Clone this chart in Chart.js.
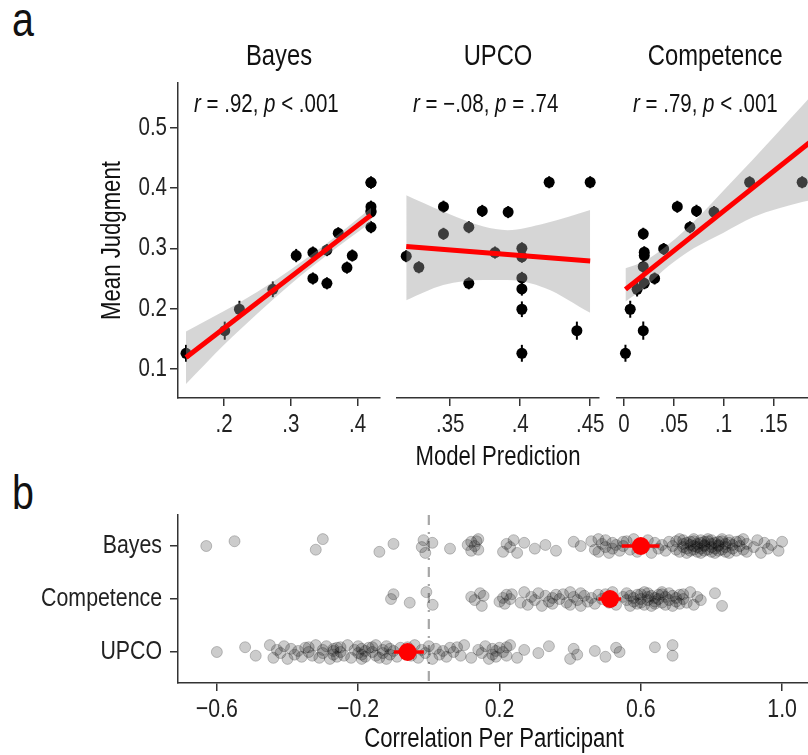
<!DOCTYPE html>
<html><head><meta charset="utf-8">
<script src="https://cdn.jsdelivr.net/npm/chart.js@4.4.0/dist/chart.umd.min.js"></script>
<style>
html,body{margin:0;padding:0;background:#fff;width:808px;height:755px;overflow:hidden;position:relative}
canvas{position:absolute}
.lab{position:absolute;font-family:"Liberation Sans",Arial,sans-serif;font-size:48px;line-height:48px;color:#111;transform:scaleX(0.82);transform-origin:left top}
</style></head><body>
<div class="lab" style="left:12px;top:-4px">a</div>
<div class="lab" style="left:12px;top:469px">b</div>
<canvas id="cBayes" width="400" height="480" style="left:0;top:0"></canvas>
<canvas id="cUPCO" width="242" height="480" style="left:377px;top:0"></canvas>
<canvas id="cComp" width="222" height="480" style="left:597px;top:0"></canvas>
<canvas id="cB" width="819" height="265" style="left:0;top:490px"></canvas>
<script>
const FONT = '"Liberation Sans", Arial, sans-serif';

// ---------- Panel a data ----------
const modelNames = ['Bayes', 'UPCO', 'Competence'];
const statR = ['.92', '\u2212.08', '.79'];
const statP = ['< .001', '= .74', '< .001'];
const judgTicks = [0.1, 0.2, 0.3, 0.4, 0.5];
const judgTickLabels = ['0.1', '0.2', '0.3', '0.4', '0.5'];

const bayesX = [0.143, 0.201, 0.223, 0.273, 0.308, 0.333, 0.333, 0.354, 0.354, 0.371, 0.384, 0.392, 0.420, 0.420, 0.420, 0.420, 0.420, 0.420];
const bayesY = [0.126, 0.1635, 0.199, 0.232, 0.288, 0.293, 0.250, 0.297, 0.242, 0.325, 0.268, 0.288, 0.409, 0.409, 0.369, 0.362, 0.360, 0.335];
const bayesSE = [0.014, 0.015, 0.014, 0.013, 0.011, 0.010, 0.010, 0.010, 0.010, 0.010, 0.010, 0.010, 0.010, 0.010, 0.010, 0.010, 0.010, 0.010];
const bayesFitX = [0.143, 0.420];
const bayesFitY = [0.119, 0.355];
const bayesBandX = [0.143, 0.20, 0.25, 0.30, 0.35, 0.420];
const bayesBandLo = [0.075, 0.140, 0.192, 0.241, 0.285, 0.343];
const bayesBandHi = [0.162, 0.196, 0.228, 0.265, 0.305, 0.367];
const bayesTicks = [0.2, 0.3, 0.4];
const bayesTickLabels = ['.2', '.3', '.4'];

const upcoX = [0.3186, 0.3276, 0.3452, 0.3452, 0.3633, 0.3633, 0.3729, 0.382, 0.3914, 0.4012, 0.4012, 0.4012, 0.4012, 0.4012, 0.4012, 0.4207, 0.4405, 0.450];
const upcoY = [0.287, 0.2686, 0.369, 0.324, 0.335, 0.242, 0.362, 0.293, 0.360, 0.300, 0.286, 0.251, 0.2326, 0.199, 0.126, 0.4095, 0.1635, 0.4095];
const upcoSE = [0.010, 0.010, 0.010, 0.010, 0.010, 0.010, 0.010, 0.010, 0.010, 0.010, 0.010, 0.010, 0.011, 0.013, 0.014, 0.010, 0.015, 0.010];
const upcoFitX = [0.3186, 0.450];
const upcoFitY = [0.303, 0.279];
const upcoBandX = [0.3186, 0.345, 0.3738, 0.391, 0.418, 0.450];
const upcoBandLo = [0.214, 0.239, 0.2475, 0.2475, 0.234, 0.193];
const upcoBandHi = [0.388, 0.361, 0.336, 0.330, 0.3415, 0.3636];
const upcoTicks = [0.35, 0.40, 0.45];
const upcoTickLabels = ['.35', '.4', '.45'];

const compX = [0.0014, 0.0062, 0.0193, 0.0193, 0.0203, 0.0203, 0.0193, 0.0131, 0.0203, 0.0307, 0.0398, 0.0535, 0.0662, 0.0728, 0.0904, 0.1262, 0.179];
const compY = [0.126, 0.199, 0.1635, 0.324, 0.2935, 0.288, 0.2696, 0.232, 0.242, 0.250, 0.299, 0.369, 0.335, 0.362, 0.360, 0.4095, 0.4095];
const compSE = [0.014, 0.014, 0.015, 0.010, 0.010, 0.010, 0.010, 0.012, 0.010, 0.010, 0.010, 0.010, 0.010, 0.010, 0.010, 0.010, 0.010];
const compFitX = [0.0014, 0.19];
const compFitY = [0.232, 0.480];
const compBandX = [0.0014, 0.02, 0.045, 0.07, 0.10, 0.13, 0.18, 0.19];
const compBandLo = [0.212, 0.234, 0.271, 0.300, 0.326, 0.352, 0.377, 0.381];
const compBandHi = [0.267, 0.278, 0.307, 0.344, 0.396, 0.448, 0.538, 0.556];
const compTicks = [0, 0.05, 0.10, 0.15];
const compTickLabels = ['0', '.05', '.1', '.15'];

// ---------- Panel b data ----------
const catNames = ['Bayes', 'Competence', 'UPCO'];
const corrBayes = [-0.63, -0.55, -0.32, -0.30, -0.14, -0.10, -0.02, -0.015, -0.01, 0.01, 0.06, 0.11, 0.12, 0.12, 0.13, 0.135, 0.14, 0.14,
  0.21, 0.22, 0.23, 0.24, 0.25, 0.27, 0.30, 0.33, 0.36, 0.41, 0.43,
  0.46, 0.47, 0.48, 0.48, 0.49, 0.50, 0.50, 0.51, 0.52, 0.52, 0.53, 0.54, 0.55, 0.55, 0.56,
  0.57, 0.58, 0.59, 0.60, 0.61, 0.62, 0.63, 0.64, 0.65, 0.66, 0.67, 0.68,
  0.69, 0.70, 0.70, 0.71, 0.71, 0.72, 0.72, 0.72, 0.73, 0.73, 0.73, 0.74, 0.74, 0.74, 0.75, 0.75, 0.75, 0.75, 0.76, 0.76, 0.76,
  0.77, 0.77, 0.77, 0.77, 0.78, 0.78, 0.78, 0.78, 0.79, 0.79, 0.79, 0.80, 0.80, 0.80, 0.80, 0.81, 0.81, 0.81, 0.82, 0.82, 0.82, 0.82,
  0.83, 0.83, 0.83, 0.84, 0.84, 0.84, 0.85, 0.85, 0.85, 0.86, 0.86, 0.87, 0.87, 0.88, 0.88, 0.89, 0.89, 0.90, 0.90,
  0.92, 0.93, 0.94, 0.95, 0.96, 0.97, 0.99, 1.00];
const corrCompetence = [-0.107, -0.10, -0.054, -0.007, 0.011, 0.12, 0.13, 0.145, 0.15, 0.155,
  0.20, 0.21, 0.215, 0.22, 0.23, 0.235, 0.26, 0.27, 0.28, 0.29, 0.30, 0.31, 0.32,
  0.33, 0.34, 0.35, 0.35, 0.36, 0.37, 0.38, 0.39, 0.40, 0.40, 0.41, 0.42, 0.43, 0.43, 0.44, 0.45, 0.46, 0.47, 0.48, 0.49, 0.50, 0.51, 0.52, 0.53,
  0.55, 0.56, 0.56, 0.57, 0.57, 0.58, 0.58, 0.59, 0.59, 0.60, 0.60, 0.60, 0.61, 0.61, 0.62, 0.62, 0.62, 0.63, 0.63, 0.64, 0.64, 0.64,
  0.65, 0.65, 0.66, 0.66, 0.66, 0.67, 0.67, 0.68, 0.68, 0.69, 0.69, 0.70, 0.70, 0.71, 0.71, 0.72, 0.72, 0.73, 0.74, 0.75, 0.76, 0.77,
  0.81, 0.83];
const corrUPCO = [-0.60, -0.52, -0.49, -0.45, -0.44, -0.43, -0.42, -0.41, -0.40, -0.39, -0.38, -0.37, -0.36, -0.35, -0.34, -0.34,
  -0.33, -0.32, -0.31, -0.30, -0.30, -0.29, -0.28, -0.27, -0.27, -0.27, -0.26, -0.26, -0.25, -0.25, -0.24, -0.23, -0.22, -0.21,
  -0.20, -0.20, -0.19, -0.19, -0.19, -0.18, -0.18, -0.17, -0.16, -0.16, -0.15, -0.15, -0.14, -0.13, -0.13, -0.12, -0.12, -0.11,
  -0.11, -0.10, -0.09, -0.08, -0.07, -0.06, -0.05, -0.04, -0.03, -0.02, -0.01, 0.00, 0.01, 0.02, 0.03, 0.04, 0.05, 0.06, 0.07,
  0.08, 0.09, 0.10, 0.12, 0.14, 0.15, 0.16, 0.17, 0.18, 0.18, 0.19, 0.19, 0.20, 0.21, 0.22, 0.22, 0.23, 0.25, 0.27, 0.31, 0.34,
  0.40, 0.41, 0.42, 0.47, 0.50, 0.53, 0.54, 0.64, 0.69, 0.69];
const meanCorr = [0.600, 0.513, -0.060];
const ciLow = [0.546, 0.480, -0.099];
const ciHigh = [0.653, 0.544, -0.014];
const refValue = 0;
const corrTicks = [-0.6, -0.2, 0.2, 0.6, 1.0];
const corrTickLabels = ['\u22120.6', '\u22120.2', '0.2', '0.6', '1.0'];

// ---------- styling ----------
const AXIS = '#333';
const JIT = [0, 0.09, -0.07, 0.13, -0.11, 0.04, -0.02, 0.11, -0.13, 0.06, -0.05, 0.02, -0.09, 0.08];

// condensed text rendering (narrow sans look) : horizontally compress drawn text
const SX = 0.82;
(function () {
  const P = CanvasRenderingContext2D.prototype;
  const f = P.fillText, m = P.measureText;
  P.fillText = function (t, x, y, mw) {
    this.save();
    this.translate(x, y);
    this.scale(SX, 1);
    if (mw !== undefined && mw !== null) f.call(this, t, 0, 0, mw / SX); else f.call(this, t, 0, 0);
    this.restore();
  };
  P.measureText = function (t) {
    const r = m.call(this, t);
    return {width: r.width * SX,
      actualBoundingBoxAscent: r.actualBoundingBoxAscent, actualBoundingBoxDescent: r.actualBoundingBoxDescent,
      actualBoundingBoxLeft: r.actualBoundingBoxLeft * SX, actualBoundingBoxRight: r.actualBoundingBoxRight * SX,
      fontBoundingBoxAscent: r.fontBoundingBoxAscent, fontBoundingBoxDescent: r.fontBoundingBoxDescent};
  };
})();

function panelA(id, o) {
  const pts = o.x.map((v, i) => ({x: v, y: o.y[i]}));
  const hi = o.bandX.map((v, i) => ({x: v, y: o.bandHi[i]}));
  const lo = o.bandX.map((v, i) => ({x: v, y: o.bandLo[i]}));
  const fit = o.fitX.map((v, i) => ({x: v, y: o.fitY[i]}));
  const extras = {
    id: 'extras' + id,
    beforeDatasetsDraw(chart) {
      const c = chart.ctx, xs = chart.scales.x, ys = chart.scales.y, a = chart.chartArea;
      c.save();
      c.beginPath();
      c.rect(a.left, a.top, a.right - a.left, a.bottom - a.top);
      c.clip();
      c.strokeStyle = '#000'; c.lineWidth = 2;
      o.x.forEach((v, i) => {
        const px = xs.getPixelForValue(v);
        c.beginPath();
        c.moveTo(px, ys.getPixelForValue(o.y[i] - o.se[i]));
        c.lineTo(px, ys.getPixelForValue(o.y[i] + o.se[i]));
        c.stroke();
      });
      c.restore();
    },
    afterDraw(chart) {
      const c = chart.ctx;
      const parts = [['r', true], [' = ' + o.r + ', ', false], ['p', true], [' ' + o.p, false]];
      let x = chart.chartArea.left + 16;
      const y = chart.chartArea.top + 22;
      c.save();
      c.fillStyle = '#111';
      c.textBaseline = 'middle';
      c.textAlign = 'left';
      parts.forEach(([t, it]) => {
        c.font = (it ? 'italic ' : '') + '25px ' + FONT;
        c.fillText(t, x, y);
        x += c.measureText(t).width;
      });
      c.restore();
    }
  };
  new Chart(document.getElementById(id), {
    type: 'scatter',
    data: {datasets: [
      {type: 'line', data: fit, showLine: true, borderColor: '#ff0000', borderWidth: 5, pointRadius: 0, fill: false, order: 0},
      {type: 'line', data: hi, showLine: true, borderColor: 'rgba(0,0,0,0)', borderWidth: 0, pointRadius: 0,
        fill: '+1', backgroundColor: 'rgba(153,153,153,0.4)', cubicInterpolationMode: 'monotone', order: 1},
      {type: 'line', data: lo, showLine: true, borderColor: 'rgba(0,0,0,0)', borderWidth: 0, pointRadius: 0,
        fill: false, cubicInterpolationMode: 'monotone', order: 1},
      {data: pts, pointRadius: 5.5, pointBackgroundColor: '#000', pointBorderWidth: 0, order: 2}
    ]},
    options: {
      responsive: false, animation: false, events: [],
      layout: {padding: {left: o.padL, right: o.padR, top: 0, bottom: 0}},
      plugins: {
        legend: {display: false}, tooltip: {enabled: false},
        title: {display: true, text: o.title, fullSize: false, color: '#111',
          font: {family: FONT, size: 29, weight: 'normal', lineHeight: 1.2}, padding: {top: 40, bottom: 8.2}}
      },
      scales: {
        x: {type: 'linear', min: o.xMin, max: o.xMax,
          afterBuildTicks: s => { s.ticks = o.xTicks.map(v => ({value: v})); },
          afterFit: s => { s.height = 82; },
          ticks: {callback: (v, i) => o.xTickLabels[i], font: {family: FONT, size: 25}, color: '#222', padding: 4, maxRotation: 0, autoSkip: false},
          grid: {drawOnChartArea: false, drawTicks: true, tickLength: 8, color: AXIS, lineWidth: 1.5},
          border: {display: true, color: AXIS, width: 1.5},
          title: {display: !!o.xTitle, text: o.xTitle || '', color: '#111', font: {family: FONT, size: 27, lineHeight: 1.2}, padding: {top: 0, bottom: 6}}
        },
        y: {type: 'linear', min: 0.0519, max: 0.574, display: o.showY,
          afterBuildTicks: s => { s.ticks = judgTicks.map(v => ({value: v})); },
          afterFit: s => { if (o.showY) s.width = 178; },
          ticks: {callback: (v, i) => judgTickLabels[i], font: {family: FONT, size: 25}, color: '#222', padding: 3},
          grid: {drawOnChartArea: false, drawTicks: true, tickLength: 8, color: AXIS, lineWidth: 1.5},
          border: {display: true, color: AXIS, width: 1.5},
          title: {display: true, text: 'Mean Judgment', color: '#111', font: {family: FONT, size: 27, lineHeight: 1.2}, padding: {top: 96, bottom: 0}}
        }
      }
    },
    plugins: [extras]
  });
}

panelA('cBayes', {title: modelNames[0], r: statR[0], p: statP[0], x: bayesX, y: bayesY, se: bayesSE,
  fitX: bayesFitX, fitY: bayesFitY, bandX: bayesBandX, bandLo: bayesBandLo, bandHi: bayesBandHi,
  xMin: 0.131, xMax: 0.4335, xTicks: bayesTicks, xTickLabels: bayesTickLabels, showY: true, padL: 0, padR: 20});
panelA('cUPCO', {title: modelNames[1], r: statR[1], p: statP[1], x: upcoX, y: upcoY, se: upcoSE,
  fitX: upcoFitX, fitY: upcoFitY, bandX: upcoBandX, bandLo: upcoBandLo, bandHi: upcoBandHi,
  xMin: 0.312, xMax: 0.4563, xTicks: upcoTicks, xTickLabels: upcoTickLabels, showY: false, padL: 20, padR: 20,
  xTitle: 'Model Prediction'});
panelA('cComp', {title: modelNames[2], r: statR[2], p: statP[2], x: compX, y: compY, se: compSE,
  fitX: compFitX, fitY: compFitY, bandX: compBandX, bandLo: compBandLo, bandHi: compBandHi,
  xMin: -0.0071, xMax: 0.1904, xTicks: compTicks, xTickLabels: compTickLabels, showY: false, padL: 20, padR: 0});

// ---------- Panel b ----------
(function () {
  const n = catNames.length;
  const rows = [corrBayes, corrCompetence, corrUPCO];
  const gray = [];
  rows.forEach((arr, ci) => arr.forEach((v, i) => gray.push({x: v, y: (n - ci) + JIT[i % JIT.length]})));
  const means = meanCorr.map((v, ci) => ({x: v, y: n - ci}));
  const extras = {
    id: 'extrasB',
    beforeDatasetsDraw(chart) {
      const c = chart.ctx, xs = chart.scales.x, a = chart.chartArea;
      const px = xs.getPixelForValue(refValue);
      c.save();
      c.strokeStyle = '#a6a6a6'; c.lineWidth = 2.2;
      c.setLineDash([10, 7, 2, 7]);
      c.beginPath(); c.moveTo(px, a.top); c.lineTo(px, a.bottom); c.stroke();
      c.restore();
    },
    afterDatasetsDraw(chart) {
      const c = chart.ctx, xs = chart.scales.x, ys = chart.scales.y;
      c.save();
      c.strokeStyle = '#ff0000'; c.lineWidth = 3.5;
      meanCorr.forEach((v, ci) => {
        const py = ys.getPixelForValue(n - ci);
        c.beginPath();
        c.moveTo(xs.getPixelForValue(ciLow[ci]), py);
        c.lineTo(xs.getPixelForValue(ciHigh[ci]), py);
        c.stroke();
      });
      c.restore();
    }
  };
  new Chart(document.getElementById('cB'), {
    type: 'scatter',
    data: {datasets: [
      {data: means, pointRadius: 9, pointBackgroundColor: '#ff0000', pointBorderWidth: 0, order: 0},
      {data: gray, pointRadius: 5.5, pointBackgroundColor: 'rgba(0,0,0,0.2)', pointBorderColor: 'rgba(0,0,0,0.22)', pointBorderWidth: 1, order: 2}
    ]},
    options: {
      responsive: false, animation: false, events: [],
      layout: {padding: {left: 0, right: 0, top: 25, bottom: 0}},
      plugins: {legend: {display: false}, tooltip: {enabled: false}},
      scales: {
        x: {type: 'linear', min: -0.710, max: 1.079,
          afterBuildTicks: s => { s.ticks = corrTicks.map(v => ({value: v})); },
          afterFit: s => { s.height = 72; },
          ticks: {callback: (v, i) => corrTickLabels[i], font: {family: FONT, size: 26}, color: '#222', padding: 3, maxRotation: 0, autoSkip: false},
          grid: {drawOnChartArea: false, drawTicks: true, tickLength: 8, color: AXIS, lineWidth: 1.5},
          border: {display: true, color: AXIS, width: 1.5},
          title: {display: true, text: 'Correlation Per Participant', color: '#111', font: {family: FONT, size: 27, lineHeight: 1}, padding: {top: 0, bottom: 2}}
        },
        y: {type: 'linear', min: 0.415, max: 3.585,
          afterBuildTicks: s => { s.ticks = catNames.map((c, i) => ({value: n - i})); },
          afterFit: s => { s.width = 178; },
          ticks: {callback: (v) => catNames[n - v], font: {family: FONT, size: 26}, color: '#222', padding: 8},
          grid: {drawOnChartArea: false, drawTicks: true, tickLength: 8, color: AXIS, lineWidth: 1.5},
          border: {display: true, color: AXIS, width: 1.5}
        }
      }
    },
    plugins: [extras]
  });
})();
</script>
</body></html>
